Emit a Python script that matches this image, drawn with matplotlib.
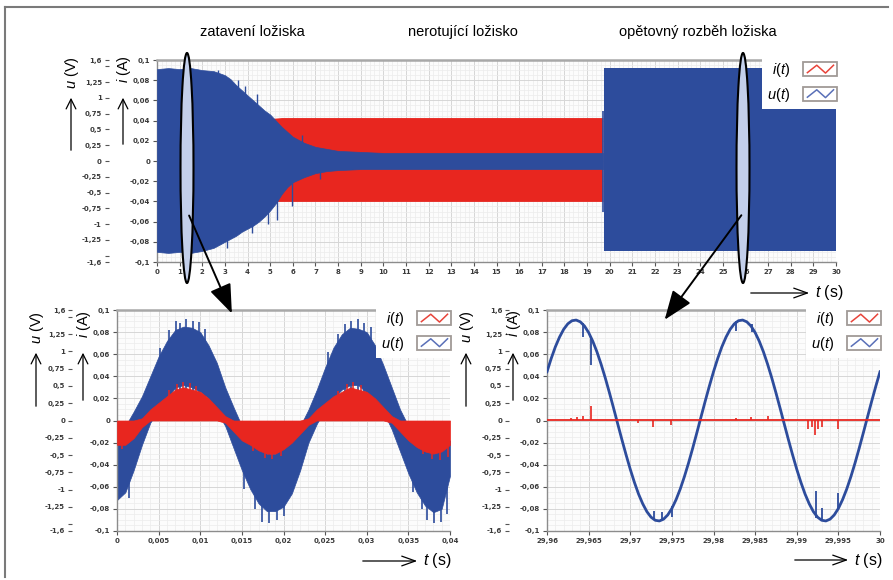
import numpy as np
import matplotlib
matplotlib.use("Agg")
import matplotlib.pyplot as plt
from matplotlib.patches import Ellipse, FancyArrowPatch, Rectangle
from matplotlib.lines import Line2D
from matplotlib.legend_handler import HandlerBase
from matplotlib.ticker import MultipleLocator, FixedLocator

plt.rcParams['font.family'] = ['Liberation Sans', 'DejaVu Sans']
plt.rcParams['mathtext.fontset'] = 'custom'
plt.rcParams['mathtext.it'] = 'Liberation Sans:italic'
plt.rcParams['mathtext.rm'] = 'Liberation Sans'

BLUE = '#2d4c9c'
RED = '#e8261f'

# ---- data: top panel (whole 30 s record) ----
run_t = [0, 0.5, 1.0, 1.5, 2.0, 2.5, 3.0, 3.25, 3.5, 3.75, 4.0, 4.25, 4.5, 4.75,
         5.0, 5.25, 5.5, 5.75, 6.0, 6.5, 7.0, 7.5, 8.0, 9.0, 10, 12, 14, 16, 18, 19.7]
run_u_hi = [0.091, 0.092, 0.091, 0.092, 0.090, 0.089, 0.085, 0.081, 0.075, 0.070, 0.065, 0.060,
            0.055, 0.050, 0.046, 0.040, 0.034, 0.029, 0.024, 0.018, 0.014, 0.012, 0.010,
            0.009, 0.008, 0.008, 0.008, 0.008, 0.008, 0.008]
run_u_lo = [-0.090, -0.091, -0.090, -0.091, -0.089, -0.086, -0.080, -0.077, -0.074, -0.070,
            -0.067, -0.064, -0.060, -0.055, -0.049, -0.042, -0.033, -0.026, -0.021, -0.016,
            -0.012, -0.010, -0.009, -0.008, -0.008, -0.008, -0.008, -0.008, -0.008, -0.008]
run_spk_t = [2.7, 3.1, 3.6, 3.9, 4.2, 4.4, 4.9, 5.3, 5.95, 6.4, 7.2]
run_spk_tip = [0.090, -0.086, 0.080, 0.074, -0.071, 0.066, -0.062, -0.058, -0.045, 0.026, -0.018]
run_i_t = [0, 5.0, 5.5, 19.7]
run_i_hi = [0.042, 0.042, 0.043, 0.043]
run_i_lo = [-0.040, -0.040, -0.040, -0.040]
restart_t = [19.75, 30.0]
restart_u_hi = [0.092, 0.092]
restart_u_lo = [-0.089, -0.089]
jump_t = [19.7]
jump_lo = [-0.05]
jump_hi = [0.05]

# ---- data: bottom-left (bearing seizure, 0..0.04 s) ----
bl_t = [0.000, 0.001, 0.002, 0.003, 0.004, 0.005, 0.006, 0.007, 0.008, 0.009,
        0.010, 0.011, 0.012, 0.013, 0.014, 0.015, 0.016, 0.017, 0.018, 0.019,
        0.020, 0.021, 0.022, 0.023, 0.024, 0.025, 0.026, 0.027, 0.028, 0.029,
        0.030, 0.031, 0.032, 0.033, 0.034, 0.035, 0.036, 0.037, 0.038, 0.039, 0.040]
bl_u_hi = [-0.015, -0.005, 0.008, 0.022, 0.040, 0.058, 0.072, 0.082, 0.085, 0.084,
           0.080, 0.068, 0.052, 0.030, 0.012, -0.005, -0.015, -0.025, -0.030, -0.030,
           -0.025, -0.015, -0.005, 0.010, 0.028, 0.048, 0.066, 0.078, 0.084, 0.083,
           0.080, 0.068, 0.050, 0.030, 0.010, -0.005, -0.015, -0.025, -0.030, -0.025, -0.018]
bl_u_lo = [-0.072, -0.065, -0.045, -0.022, -0.002, 0.010, 0.020, 0.030, 0.032, 0.030,
           0.026, 0.020, 0.008, -0.005, -0.025, -0.045, -0.062, -0.075, -0.082, -0.082,
           -0.078, -0.066, -0.045, -0.020, -0.003, 0.010, 0.020, 0.028, 0.032, 0.032,
           0.025, 0.018, 0.008, -0.008, -0.028, -0.048, -0.065, -0.077, -0.083, -0.080, -0.050]
bl_u_spk_t = [0.0015, 0.0052, 0.0063, 0.0071, 0.0076, 0.0083, 0.0091, 0.0098, 0.0106,
              0.0153, 0.0166, 0.0174, 0.0183, 0.0192, 0.0201, 0.0253, 0.0266, 0.0274,
              0.0281, 0.0289, 0.0297, 0.0305, 0.0355, 0.0366, 0.0372, 0.0381, 0.0389, 0.0396]
bl_u_spk_tip = [-0.070, 0.066, 0.082, 0.090, 0.088, 0.092, 0.090, 0.089, 0.083,
                -0.062, -0.080, -0.092, -0.093, -0.090, -0.086, 0.062, 0.078, 0.087,
                0.090, 0.092, 0.088, 0.085, -0.065, -0.080, -0.090, -0.093, -0.092, -0.085]
bl_i_hi = [0.000, 0.000, 0.000, 0.002, 0.010, 0.016, 0.022, 0.028, 0.030, 0.028,
           0.026, 0.020, 0.012, 0.004, 0.000, 0.000, 0.000, 0.000, 0.000, 0.000,
           0.000, 0.000, 0.000, 0.002, 0.010, 0.016, 0.022, 0.026, 0.030, 0.028,
           0.026, 0.020, 0.012, 0.004, 0.000, 0.000, 0.000, 0.000, 0.000, 0.000, 0.000]
bl_i_lo = [-0.022, -0.022, -0.016, -0.006, 0.000, 0.000, 0.000, 0.000, 0.000, 0.000,
           0.000, 0.000, 0.000, -0.002, -0.010, -0.018, -0.022, -0.027, -0.030, -0.030,
           -0.026, -0.020, -0.012, -0.004, 0.000, 0.000, 0.000, 0.000, 0.000, 0.000,
           0.000, 0.000, 0.000, -0.002, -0.010, -0.018, -0.024, -0.028, -0.030, -0.028, -0.022]
bl_i_spk_t = [0.0006, 0.0062, 0.0072, 0.0079, 0.0088, 0.0095, 0.0163, 0.0178, 0.0186,
              0.0197, 0.0265, 0.0276, 0.0284, 0.0293, 0.0367, 0.0378, 0.0388, 0.0398]
bl_i_spk_tip = [-0.026, 0.028, 0.033, 0.035, 0.034, 0.031, -0.028, -0.034, -0.035,
                -0.032, 0.027, 0.033, 0.035, 0.032, -0.030, -0.035, -0.036, -0.033]

# ---- data: bottom-right (restart, 29.96..30 s), 0.5 ms samples ----
br_t = [29.9600 + 0.0005 * k for k in range(81)]
br_half = [0.0441, 0.0560, 0.0666, 0.0754, 0.0825, 0.0875, 0.0903, 0.0909, 0.0893, 0.0855,
           0.0796, 0.0717, 0.0621, 0.0509, 0.0385, 0.0251, 0.0111, -0.0032, -0.0174, -0.0311]
br_cycle = br_half + [-v for v in br_half]
br_u = br_cycle + br_cycle + [br_half[0]]
br_u_spk_t = [29.9643, 29.9653, 29.9728, 29.9738, 29.9750, 29.9827, 29.9846, 29.9923, 29.9930, 29.9950]
br_u_spk_base = [0.088, 0.076, -0.089, -0.091, -0.087, 0.090, 0.087, -0.088, -0.090, -0.080]
br_u_spk_tip = [0.076, 0.050, -0.082, -0.083, -0.077, 0.081, 0.080, -0.064, -0.079, -0.066]
br_i_t = [29.96, 30.0]
br_i = [0.0005, 0.0005]
br_i_spk_t = [29.9629, 29.9636, 29.9643, 29.9653, 29.9709, 29.9727, 29.9749, 29.9827,
              29.9845, 29.9866, 29.9913, 29.9918, 29.9922, 29.9926, 29.9930, 29.9950]
br_i_spk = [0.002, 0.003, 0.004, 0.013, -0.002, -0.006, -0.004, 0.002,
            0.003, 0.004, -0.008, -0.006, -0.013, -0.008, -0.006, -0.008]

i_ticks = [-0.1, -0.08, -0.06, -0.04, -0.02, 0, 0.02, 0.04, 0.06, 0.08, 0.1]
i_labels = ['-0,1', '-0,08', '-0,06', '-0,04', '-0,02', '0', '0,02', '0,04', '0,06', '0,08', '0,1']
u_ticks = [-1.6, -1.25, -1, -0.75, -0.5, -0.25, 0, 0.25, 0.5, 0.75, 1, 1.25, 1.6]
u_labels = ['-1,6', '-1,25', '-1', '-0,75', '-0,5', '-0,25', '0', '0,25', '0,5', '0,75', '1', '1,25', '1,6']
top_xticks = list(range(31))
bl_xticks = [0, 0.005, 0.01, 0.015, 0.02, 0.025, 0.03, 0.035, 0.04]
bl_xlabels = ['0', '0,005', '0,01', '0,015', '0,02', '0,025', '0,03', '0,035', '0,04']
br_xticks = [29.96, 29.965, 29.97, 29.975, 29.98, 29.985, 29.99, 29.995, 30.0]
br_xlabels = ['29,96', '29,965', '29,97', '29,975', '29,98', '29,985', '29,99', '29,995', '30']

W, H = 893, 580
fig = plt.figure(figsize=(W / 100, H / 100), dpi=100)


def P(x, y):
    return (x / W, 1 - y / H)


def box(left, top, right, bottom):
    return [left / W, 1 - bottom / H, (right - left) / W, (bottom - top) / H]


class ZigZag(HandlerBase):
    def create_artists(self, legend, orig_handle, xdescent, ydescent, width, height, fontsize, trans):
        r = Rectangle((-xdescent, -ydescent), width, height, facecolor='white',
                      edgecolor='#a09a96', lw=1.3, transform=trans)
        xs = -xdescent + width * np.array([0.12, 0.4, 0.66, 0.9])
        ys = -ydescent + height * np.array([0.25, 0.78, 0.22, 0.78])
        ln = Line2D(xs, ys, color=orig_handle.get_color(), lw=1.1, transform=trans)
        return [r, ln]


tick_kw = dict(fontsize=5, fontweight='bold', color='#3a3a3a', family='DejaVu Sans')


def style_axes(ax, xticks, xlabels, xminor, u_pos):
    ax.set_facecolor('#fcfcfc')
    ax.set_ylim(-0.1, 0.1)
    ax.set_yticks(i_ticks, i_labels, **tick_kw)
    ax.set_xticks(xticks, xlabels, **tick_kw)
    ax.xaxis.set_minor_locator(MultipleLocator(xminor))
    ax.yaxis.set_minor_locator(MultipleLocator(0.005))
    ax.grid(which='major', color='#d6d6d6', lw=0.7)
    ax.grid(which='minor', color='#ececec', lw=0.5)
    ax.set_axisbelow(True)
    ax.tick_params(which='major', direction='out', length=3, width=0.8, color='#555555', pad=2)
    ax.tick_params(which='minor', length=0)
    ax.spines['right'].set_visible(False)
    ax.spines['top'].set_color('#a8a8a8')
    ax.spines['top'].set_linewidth(1.8)
    for s in ('left', 'bottom'):
        ax.spines[s].set_color('#8c8c8c')
        ax.spines[s].set_linewidth(1.0)
    sec = ax.secondary_yaxis(u_pos, functions=(lambda x: x * 16, lambda x: x / 16))
    sec.set_yticks(u_ticks, u_labels, **tick_kw)
    sec.yaxis.set_minor_locator(FixedLocator([-1.5, 1.5]))
    sec.tick_params(which='both', direction='out', length=3, width=0.8, color='#555555', pad=2)
    for s in sec.spines.values():
        s.set_visible(False)


def add_legend(ax, right, top):
    handles = [Line2D([], [], color='#e8443a'), Line2D([], [], color='#5a70b8')]
    leg = ax.legend(handles, ['$i$($t$)', '$u$($t$)'], handler_map={Line2D: ZigZag()},
                    loc='upper right', bbox_to_anchor=P(right, top), bbox_transform=fig.transFigure,
                    fontsize=10.5, handlelength=2.3, handleheight=1.1, handletextpad=0.9,
                    labelspacing=0.45, borderpad=0.35, borderaxespad=0, markerfirst=False,
                    frameon=True, facecolor='white', edgecolor='none', fancybox=False, framealpha=1)
    leg.set_zorder(10)


def axis_names(xu, xi, yc, arrow_bottom, arrow_top):
    fig.text(*P(xu, yc), '$u$ (V)', rotation=90, ha='center', va='center', fontsize=10.5)
    fig.text(*P(xi, yc - 4), '$i$ (A)', rotation=90, ha='center', va='center', fontsize=10.5)
    for x, b in ((xu - 1, arrow_bottom), (xi - 1, arrow_bottom - 6)):
        fig.add_artist(FancyArrowPatch(P(x, b), P(x, arrow_top), transform=fig.transFigure,
                                       arrowstyle='->,head_length=0.5,head_width=0.25',
                                       mutation_scale=14, color='black', lw=0.9))


def time_arrow(x0, x1, y):
    fig.add_artist(FancyArrowPatch(P(x0, y), P(x1, y), transform=fig.transFigure,
                                   arrowstyle='->,head_length=0.7,head_width=0.25',
                                   mutation_scale=14, color='black', lw=0.9))
    fig.text(*P(x1 + 3, y), '$t$ (s)', ha='left', va='center', fontsize=11.5)


# ---- top panel ----
ax1 = fig.add_axes(box(157, 60, 836, 262))
ax1.fill_between(run_i_t, run_i_lo, run_i_hi, color=RED, lw=0, zorder=2)
ax1.fill_between(run_t, run_u_lo, run_u_hi, color=BLUE, lw=0.5, zorder=3)
ax1.vlines(run_spk_t, 0, run_spk_tip, color=BLUE, lw=1.0, zorder=3)
ax1.vlines(jump_t, jump_lo, jump_hi, color=BLUE, lw=1.2, zorder=3)
ax1.fill_between(restart_t, restart_u_lo, restart_u_hi, color=BLUE, lw=0, zorder=3)
ax1.set_xlim(0, 30)
style_axes(ax1, top_xticks, [str(v) for v in top_xticks], 0.2, -0.071)
add_legend(ax1, 842, 56)

# ---- bottom-left ----
ax2 = fig.add_axes(box(117, 310, 450, 531))
ax2.fill_between(bl_t, bl_u_lo, bl_u_hi, color=BLUE, lw=0.5, zorder=2)
ax2.vlines(bl_u_spk_t, 0, bl_u_spk_tip, color=BLUE, lw=1.2, zorder=2)
ax2.fill_between(bl_t, bl_i_lo, bl_i_hi, color=RED, lw=0.5, zorder=3)
ax2.vlines(bl_i_spk_t, 0, bl_i_spk_tip, color=RED, lw=1.1, zorder=3)
ax2.set_xlim(0, 0.04)
style_axes(ax2, bl_xticks, bl_xlabels, 0.001, -0.135)
add_legend(ax2, 456, 305)

# ---- bottom-right ----
ax3 = fig.add_axes(box(547, 310, 880, 531))
ax3.plot(br_t, br_u, color=BLUE, lw=2.0, zorder=3)
ax3.vlines(br_u_spk_t, br_u_spk_base, br_u_spk_tip, color=BLUE, lw=1.3, zorder=3)
ax3.plot(br_i_t, br_i, color=RED, lw=1.3, zorder=4)
ax3.vlines(br_i_spk_t, br_i[0], br_i_spk, color=RED, lw=1.2, zorder=4)
ax3.set_xlim(29.96, 30.0)
style_axes(ax3, br_xticks, br_xlabels, 0.001, -0.114)
add_legend(ax3, 886, 305)

# axis names and arrows
axis_names(72, 124, 73, 153, 95)
axis_names(37, 84, 328, 409, 350)
axis_names(467, 514, 327, 409, 350)
time_arrow(748, 812, 293)
time_arrow(360, 420, 561)
time_arrow(792, 851, 560)

# section titles
fig.text(*P(252, 32), 'zatavení ložiska', ha='center', va='center', fontsize=10.5)
fig.text(*P(463, 32), 'nerotující ložisko', ha='center', va='center', fontsize=10.5)
fig.text(*P(698, 32), 'opětovný rozběh ložiska', ha='center', va='center', fontsize=10.5)

# highlight ellipses and zoom arrows
for cx in (187, 743):
    fig.add_artist(Ellipse(P(cx, 168), 13 / W, 230 / H, transform=fig.transFigure,
                           facecolor='#c3cfea', edgecolor='black', lw=1.5, zorder=20))
fig.add_artist(FancyArrowPatch(P(188, 213), P(233, 316), transform=fig.transFigure,
                               arrowstyle='-|>,head_length=1.0,head_width=0.38',
                               mutation_scale=18, color='black', lw=1.4, zorder=21))
fig.add_artist(FancyArrowPatch(P(743, 213), P(663, 322), transform=fig.transFigure,
                               arrowstyle='-|>,head_length=1.0,head_width=0.38',
                               mutation_scale=18, color='black', lw=1.4, zorder=21))

# outer frame (top and left edge)
fig.add_artist(Line2D([5 / W, 888 / W], [1 - 7 / H, 1 - 7 / H], transform=fig.transFigure,
                      color='#7a7a7a', lw=1.5))
fig.add_artist(Line2D([5 / W, 5 / W], [1 - 7 / H, 1 - 577 / H], transform=fig.transFigure,
                      color='#7a7a7a', lw=1.5))

fig.savefig('out.png', dpi=100)
